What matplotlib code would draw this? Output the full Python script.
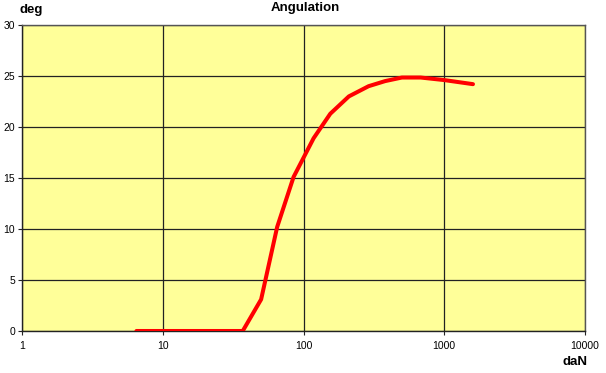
import matplotlib
matplotlib.use("Agg")
import matplotlib.pyplot as plt
from matplotlib.ticker import NullLocator

plt.rcParams['font.family'] = ['Liberation Sans', 'DejaVu Sans']

# data
force_dan = [6.5, 37, 50, 65, 85, 118, 155, 210, 290, 380, 500, 680, 1000, 1600]
angle_deg = [0, 0, 3.1, 10.2, 15.1, 18.9, 21.3, 23.0, 24.0, 24.5, 24.85, 24.85, 24.6, 24.2]

x_ticks = [1, 10, 100, 1000, 10000]
x_tick_labels = ["1", "10", "100", "1000", "10000"]
y_ticks = [0, 5, 10, 15, 20, 25, 30]

fig = plt.figure(figsize=(6.06, 3.73), dpi=100)
ax = fig.add_axes([22 / 606, 1 - 331 / 373, (585 - 22) / 606, (331 - 25) / 373])
ax.set_facecolor("#FFFF99")

ax.plot(force_dan, angle_deg, color="#FF0000", linewidth=2.9, solid_joinstyle="round",
        solid_capstyle="round", zorder=3)

ax.set_xscale("log")
ax.set_xlim(1, 10000)
ax.set_ylim(0, 30)
ax.set_xticks(x_ticks)
ax.set_xticklabels(x_tick_labels)
ax.xaxis.set_minor_locator(NullLocator())
ax.set_yticks(y_ticks)

ax.grid(True, color="#222222", linewidth=0.9)
ax.set_axisbelow(True)
for s in ax.spines.values():
    s.set_color("#555555")
    s.set_linewidth(1.0)
ax.spines["left"].set_color("#222222")
ax.spines["bottom"].set_color("#222222")

ax.tick_params(axis="both", labelsize=7.5, length=3, width=0.8, color="#222222", pad=2)
ax.tick_params(axis="x", pad=4)

fig.text(20 / 606, 1 - 10 / 373, "deg", fontsize=9.5, fontweight="bold", ha="left", va="center")
fig.text(305 / 606, 1 - 8 / 373, "Angulation", fontsize=9.5, fontweight="bold", ha="center", va="center")
fig.text(575 / 606, 1 - 362 / 373, "daN", fontsize=9.5, fontweight="bold", ha="center", va="center")

fig.savefig("out.png", dpi=100, facecolor="white")
